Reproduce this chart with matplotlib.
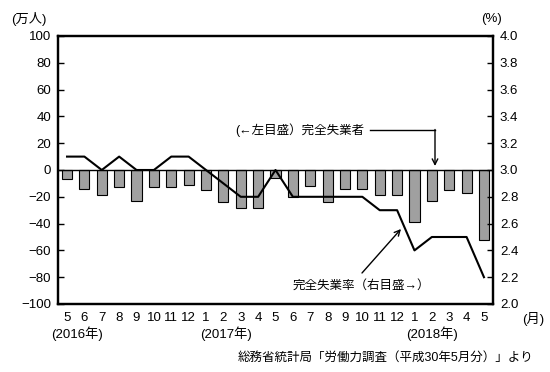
import matplotlib
matplotlib.use("Agg")
import matplotlib.pyplot as plt

plt.rcParams['font.family'] = ['Liberation Sans', 'Noto Sans CJK JP', 'DejaVu Sans']

months = ["5", "6", "7", "8", "9", "10", "11", "12", "1", "2", "3", "4",
          "5", "6", "7", "8", "9", "10", "11", "12", "1", "2", "3", "4", "5"]
unemployed_change = [-7, -14, -19, -13, -23, -13, -13, -11, -15, -24, -28, -28,
                     -6, -20, -12, -24, -14, -14, -19, -19, -39, -23, -15, -17, -52]
unemployment_rate = [3.1, 3.1, 3.0, 3.1, 3.0, 3.0, 3.1, 3.1, 3.0, 2.9, 2.8, 2.8,
                     3.0, 2.8, 2.8, 2.8, 2.8, 2.8, 2.7, 2.7, 2.4, 2.5, 2.5, 2.5, 2.2]
left_ticks = [100, 80, 60, 40, 20, 0, -20, -40, -60, -80, -100]
right_ticks = [4.0, 3.8, 3.6, 3.4, 3.2, 3.0, 2.8, 2.6, 2.4, 2.2, 2.0]
year_labels = ["(2016年)", "(2017年)", "(2018年)"]
year_pos = [0.6, 9.15, 21.0]

fig = plt.figure(figsize=(5.5, 3.72), dpi=100)
ax1 = fig.add_axes([58/550, 1-304/372, (493-58)/550, (304-36)/372])
ax2 = ax1.twinx()

x = list(range(len(months)))
ax1.bar(x, unemployed_change, width=0.58, color='#a0a0a0', edgecolor='black', linewidth=0.8, zorder=2)
ax1.axhline(0, color='black', lw=1.0, zorder=3)
ax2.plot(x, unemployment_rate, color='black', lw=1.5, zorder=4)

ax1.set_xlim(-0.52, len(months) - 0.48)
ax1.set_ylim(-100, 100)
ax2.set_ylim(2.0, 4.0)
ax1.set_yticks(left_ticks)
ax1.set_yticklabels([("\u2212" + str(abs(t))) if t < 0 else str(t) for t in left_ticks], fontsize=9.5)
ax2.set_yticks(right_ticks)
ax2.set_yticklabels([f"{t:.1f}" for t in right_ticks], fontsize=9.5)
ax1.set_xticks(x)
ax1.set_xticklabels(months, fontsize=9.5)
ax1.tick_params(axis='x', length=0, pad=6)
ax1.tick_params(axis='y', direction='in', length=4, width=1, pad=5)
ax2.tick_params(axis='y', direction='in', length=4, width=1, pad=5)

for ax in (ax1, ax2):
    for s in ax.spines.values():
        s.set_linewidth(1.6)

for lbl, p in zip(year_labels, year_pos):
    ax1.text(p, -0.11, lbl, transform=ax1.get_xaxis_transform(), ha='center', va='center', fontsize=9.5)
fig.text(533/550, 1-319/372, "(月)", ha='center', va='center', fontsize=9.5)
fig.text(29/550, 1-19/372, "(万人)", ha='center', va='center', fontsize=9.5)
fig.text(491/550, 1-19/372, "(%)", ha='center', va='center', fontsize=9.5)
fig.text(533/550, 1-358/372, "総務省統計局「労働力調査（平成30年5月分）」より", ha='right', va='center', fontsize=9)

# annotations
fig.text(235/550, 1-130/372, "(←左目盛）完全失業者", ha='left', va='center', fontsize=9)
fig.add_artist(plt.Line2D([370/550, 435/550], [1-130/372, 1-130/372], transform=fig.transFigure, color='black', lw=1))
ax1.annotate("", xy=(435/550, 1-166/372), xytext=(435/550, 1-129.5/372), xycoords='figure fraction',
             textcoords='figure fraction',
             arrowprops=dict(arrowstyle='->', color='black', lw=1, shrinkA=0, shrinkB=0))
fig.text(293/550, 1-286/372, "完全失業率（右目盛→）", ha='left', va='center', fontsize=9)
ax1.annotate("", xy=(401/550, 1-229/372), xytext=(362/550, 1-273/372), xycoords='figure fraction',
             textcoords='figure fraction',
             arrowprops=dict(arrowstyle='->', color='black', lw=1, shrinkA=0, shrinkB=0))

fig.savefig("out.png", dpi=100)
